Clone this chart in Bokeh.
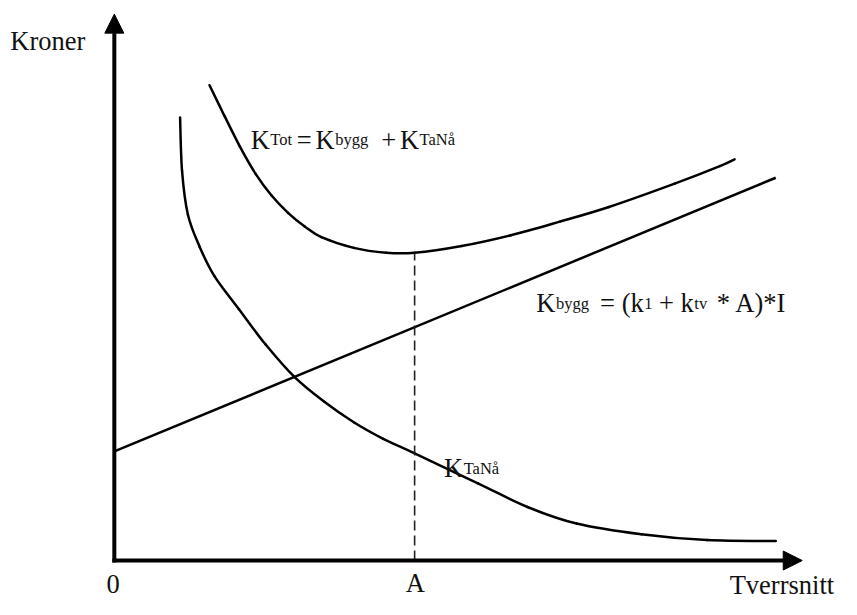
from bokeh.plotting import figure
from bokeh.models import Range1d, Arrow, NormalHead
from bokeh.core.properties import value
from bokeh.embed import file_html
from bokeh.resources import INLINE

# ---- data (arbitrary "kroner" vs "tverrsnitt" units, origin at axes corner) ----
A_POS = 306          # chosen cross-section A
KTOT_AT_A = 316      # minimum of total cost

kbygg_x = [0, 674]
kbygg_y = [112, 393]

ktana_x = [67, 69, 75, 87, 102, 127, 154, 184, 214, 244, 274, 306, 371, 421, 471, 537, 604, 674]
ktana_y = [455, 400, 355, 322, 292, 258, 222, 188, 163, 142, 125, 110, 79, 55, 38, 27, 21, 20]

ktot_x = [97, 112, 128, 144, 160, 177, 194, 211, 244, 277, 306, 354, 404, 454, 504, 571, 617, 632]
ktot_y = [488, 457, 425, 397, 375, 357, 343, 332, 321, 316, 316, 323, 334, 348, 363, 387, 405, 412]

X_AXIS_END = 701
Y_AXIS_END = 561

FONT = value("Liberation Serif")
BIG = "26.5px"
SMALL = "16.5px"
INK = "#111111"

p = figure(width=841, height=599, output_backend="svg", toolbar_location=None,
           x_axis_type=None, y_axis_type=None, min_border=0,
           x_range=Range1d(-116, 741), y_range=Range1d(-40, 575))
p.grid.visible = False
p.outline_line_color = None
p.background_fill_color = "white"
p.border_fill_color = "white"

# axes with arrow heads
p.add_layout(Arrow(x_start=0, y_start=-2, x_end=0, y_end=Y_AXIS_END, line_width=4,
                   line_color="black",
                   end=NormalHead(size=19, fill_color="black", line_color="black", line_width=1)))
p.add_layout(Arrow(x_start=-2, y_start=0, x_end=X_AXIS_END, y_end=0, line_width=4,
                   line_color="black",
                   end=NormalHead(size=19, fill_color="black", line_color="black", line_width=1)))


def smooth(xs, ys, **kw):
    """Draw a smooth curve through the points with cubic Bezier pieces (Catmull-Rom)."""
    n = len(xs)
    x0, y0, x1, y1, cx0, cy0, cx1, cy1 = [], [], [], [], [], [], [], []
    for i in range(n - 1):
        pxm, pym = (xs[i - 1], ys[i - 1]) if i > 0 else (xs[i], ys[i])
        pxp, pyp = (xs[i + 2], ys[i + 2]) if i + 2 < n else (xs[i + 1], ys[i + 1])
        x0.append(xs[i]); y0.append(ys[i]); x1.append(xs[i + 1]); y1.append(ys[i + 1])
        cx0.append(xs[i] + (xs[i + 1] - pxm) / 6); cy0.append(ys[i] + (ys[i + 1] - pym) / 6)
        cx1.append(xs[i + 1] - (pxp - xs[i]) / 6); cy1.append(ys[i + 1] - (pyp - ys[i]) / 6)
    p.bezier(x0=x0, y0=y0, x1=x1, y1=y1, cx0=cx0, cy0=cy0, cx1=cx1, cy1=cy1,
             line_cap="round", **kw)


# curves
p.line(kbygg_x, kbygg_y, line_color="black", line_width=2.5)
smooth(ktana_x, ktana_y, line_color="black", line_width=2.5)
smooth(ktot_x, ktot_y, line_color="black", line_width=2.5)
p.line([A_POS, A_POS], [0, KTOT_AT_A], line_color="#222222", line_width=1.6, line_dash="10 5")

# text labels: (x, y, text) big and small segments
big = [
    (-106, 533, "Kroner"),
    (-8, -24, "0"),
    (A_POS - 9, -23, "A"),
    (627, -25, "Tverrsnitt"),
    # K_Tot = K_bygg + K_TaNå
    (139, 432, "K"), (186, 432, "="), (205, 432, "K"), (272, 432, "+"), (291, 432, "K"),
    # K_bygg = (k1 + ktv * A)*I
    (430, 264, "K"), (495, 264, "= (k"), (555, 264, "+ k"), (614, 264, "* A)*I"),
    # K_TaNå
    (336, 95, "K"),
]
small = [
    (159, 432, "Tot"), (225, 432, "bygg"), (311, 432, "TaNå"),
    (450, 264, "bygg"), (540, 264, "1"), (591, 264, "tv"),
    (356, 95, "TaNå"),
]

p.text(x=[b[0] for b in big], y=[b[1] for b in big], text=[b[2] for b in big],
       text_font=FONT, text_font_size=BIG, text_color=INK,
       text_align="left", text_baseline="alphabetic")
p.text(x=[s[0] for s in small], y=[s[1] for s in small], text=[s[2] for s in small],
       text_font=FONT, text_font_size=SMALL, text_color=INK,
       text_align="left", text_baseline="alphabetic")

open("out.html", "w").write(file_html(p, INLINE))
